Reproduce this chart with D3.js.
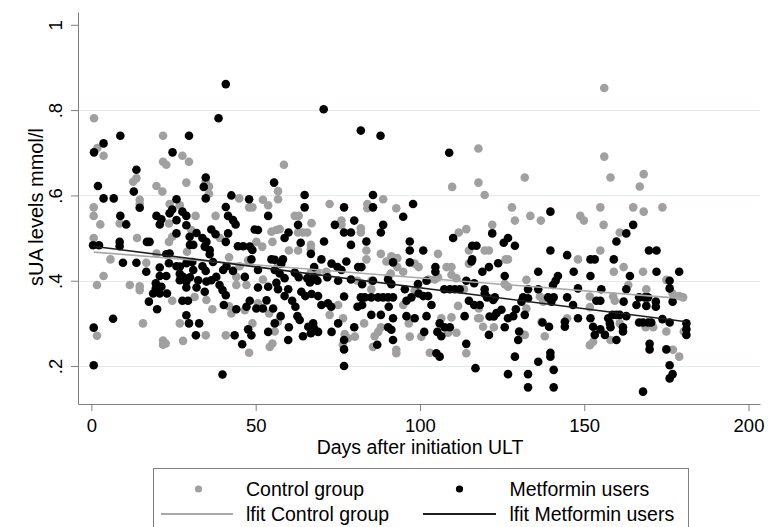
<!DOCTYPE html>
<html>
<head>
<meta charset="utf-8">
<script src="https://cdnjs.cloudflare.com/ajax/libs/d3/7.8.5/d3.min.js"></script>
<style>
  body { margin: 0; background: #fff; }
  svg text { font-family: "Liberation Sans", Arial, sans-serif; fill: #000; }
</style>
</head>
<body>
<script>
// [days after initiation ULT, sUA mmol/l]
var controlPoints = [
  [0.8,0.781],[1.8,0.711],[3.7,0.693],[13.7,0.64],[21.8,0.74],[21.8,0.679],[22.8,0.672],[27.7,0.693],[29.7,0.679],[35.8,0.621],[35.8,0.604],
  [12.7,0.632],[19.8,0.622],[21.6,0.609],[28.9,0.63],[34.8,0.632],
  [0.7,0.572],[0.7,0.552],[14.7,0.59],[14.7,0.58],[23.8,0.58],[26.9,0.577],[45.0,0.593],[48,0.572],[49,0.572],[52.2,0.59],[53.8,0.577],
  [2.7,0.532],[8.6,0.534],[23.6,0.534],[31.7,0.552],[37.8,0.552],[30.4,0.519],[54.8,0.515],[56.3,0.519],
  [0.7,0.50],[13.9,0.50],[39.1,0.50],[50.2,0.491],[52,0.48],[55.1,0.491],[23.6,0.491],[24.6,0.503],[29.1,0.468],
  [5.8,0.45],[16.7,0.442],[19.8,0.464],[41.9,0.455],[47.7,0.448],[56.8,0.437],[45.1,0.434],
  [3.7,0.411],[1.7,0.39],[11.7,0.39],[14.7,0.387],[14.7,0.378],[44.1,0.39],[47.2,0.39],[52.2,0.403],[44.1,0.409],
  [24.6,0.353],[31.4,0.362],[35,0.355],[36.8,0.333],[41.9,0.34],[42.6,0.323],[46.7,0.331],[50.7,0.347],[54.1,0.323],
  [1.7,0.271],[15.7,0.3],[26.9,0.3],[34.8,0.272],[40.9,0.272],[49,0.3],[55.1,0.253],[54.3,0.245],[48,0.231],[21.8,0.26],[22.6,0.253],[21.8,0.25],[27.9,0.259],
  [58.6,0.672],[117.8,0.71],[109.8,0.62],[117.8,0.63],[56.8,0.61],
  [72.5,0.58],[84,0.58],[84,0.57],[88.8,0.591],[92.8,0.57],[56.8,0.591],
  [61.9,0.552],[63.1,0.552],[67,0.535],[76.1,0.541],[76.1,0.531],[82,0.523],[82,0.513],[57.3,0.521],[62.9,0.513],[64.4,0.513],[65.7,0.513],[66.8,0.484],[66.8,0.474],[111.8,0.513],[114.1,0.521],[114.9,0.471],
  [60.1,0.471],[62.9,0.471],[83.7,0.471],[83.7,0.45],[88.1,0.463],[89.8,0.445],[91.3,0.457],[93.1,0.453],[93.1,0.432],[94.9,0.421],[98.4,0.44],[99.6,0.432],[105.5,0.463],[108.1,0.432],[109.6,0.432],[114.9,0.44],
  [68.8,0.419],[66.8,0.419],[71.5,0.421],[81,0.4],[85.2,0.4],[85.2,0.38],[91.1,0.417],[90.3,0.408],[102.7,0.403],[104.5,0.403],[105.5,0.408],[109.6,0.414],[111.1,0.406],[113.4,0.38],
  [75.1,0.343],[94.9,0.343],[98.4,0.377],[111.6,0.341],[117.9,0.335],
  [56.8,0.304],[72.5,0.32],[76.6,0.312],[83,0.3],[88.1,0.291],[96.6,0.3],[106.5,0.312],[109.6,0.314],[117.7,0.312],
  [55.8,0.281],[77.1,0.275],[78.1,0.265],[80.2,0.269],[86.2,0.27],[87.3,0.28],[92.8,0.238],[92.8,0.23],[96.9,0.269],[100.4,0.269],[103,0.231],[108.6,0.278],[111.1,0.278],[114.1,0.23],[85.7,0.245],[76.5,0.25],
  [119.7,0.601],[128,0.572],[128.9,0.541],[133.6,0.552],[136.8,0.541],[148.8,0.552],[149.9,0.541],[154.9,0.572],[155.9,0.531],[164.9,0.572],[168.1,0.562],[173.8,0.572],[122,0.531],[160.8,0.513],
  [119.7,0.471],[121,0.471],[154.9,0.471],[126.1,0.45],[126.8,0.45],[148.1,0.45],[162,0.432],[159,0.421],[167.9,0.421],[175,0.402],
  [132.4,0.402],[125.8,0.392],[126.8,0.386],[163.4,0.39],[168.9,0.38],[136.5,0.363],[137.5,0.351],[151.7,0.363],[158.8,0.363],[159.3,0.353],[176.9,0.37],[178.9,0.364],[180.1,0.361],
  [132.4,0.335],[118.2,0.312],[119.2,0.292],[122.5,0.291],[137,0.304],[144.8,0.312],[151.7,0.338],[160.8,0.3],[158,0.261],[168.7,0.291],[171,0.291],[175,0.281],[180.3,0.281],[131.9,0.273],[138,0.27],
  [152.7,0.257],[151.7,0.249],[177,0.238],[178.9,0.222],
  [156.1,0.852],[156.1,0.691],[158,0.642],[131.9,0.642],[166.9,0.621],[168.1,0.65]
];

var metforminPoints = [
  [0.8,0.701],[3.7,0.722],[8.8,0.74],[13.7,0.66],[24.7,0.701],[29.7,0.74],[34.8,0.642],[38.7,0.781],[40.9,0.861],
  [2.0,0.622],[12.9,0.609],[34.2,0.62],[34.8,0.593],[55.6,0.63],
  [3.7,0.593],[6.8,0.593],[14.7,0.571],[25.9,0.591],[24.6,0.567],[23.8,0.558],[27.7,0.562],[28.9,0.552],[42.6,0.6],[48,0.591],[40.9,0.573],
  [8.8,0.552],[10.6,0.532],[19.8,0.552],[21.3,0.544],[20.8,0.532],[25.9,0.542],[28.9,0.53],[41.6,0.552],[43.1,0.542],[43.9,0.532],[53.8,0.552],[36.5,0.52],[32,0.512],[49.7,0.52],[50.7,0.519],
  [0.5,0.483],[2.3,0.483],[8.6,0.491],[8.6,0.481],[16.9,0.491],[17.7,0.491],[25.9,0.511],[29.9,0.503],[33.8,0.5],[35,0.491],[34.5,0.48],[37.8,0.509],[40.9,0.491],[41.6,0.511],[44.6,0.481],[46.2,0.481],[48.2,0.48],[49,0.472],[30,0.484],[31,0.484],[36,0.472],[36,0.462],
  [9.6,0.442],[13.7,0.442],[16.7,0.421],[23.8,0.464],[22.8,0.462],[20.8,0.431],[23.6,0.441],[25.9,0.434],[26.9,0.433],[26.9,0.416],[28.9,0.441],[30.7,0.444],[31,0.425],[30,0.408],[33.8,0.434],[34.8,0.423],[37,0.444],[41.1,0.434],[40.1,0.425],[43.1,0.423],[46.7,0.409],[48.7,0.45],[50.7,0.425],[54.8,0.45],
  [20.8,0.411],[22.8,0.411],[19.6,0.394],[21.3,0.386],[27.9,0.409],[28.9,0.398],[26.9,0.401],[28.9,0.384],[32.5,0.401],[32,0.384],[35,0.398],[36.5,0.401],[38,0.409],[39,0.39],[34.5,0.374],[40.9,0.366],[39.9,0.378],[50.7,0.384],[53.8,0.386],[56.8,0.38],[56.3,0.395],
  [18.8,0.37],[20.8,0.37],[23,0.37],[19.6,0.382],[17.5,0.351],[20,0.333],[27.7,0.353],[29.4,0.353],[40.3,0.343],[44.1,0.333],[48.2,0.353],[47.2,0.339],[50.2,0.335],[52.2,0.335],[55.3,0.335],[53.3,0.354],
  [6.6,0.311],[0.7,0.29],[28.9,0.319],[29.7,0.3],[32.8,0.3],[31.8,0.272],[43.6,0.272],[47.7,0.286],[48.7,0.272],[55.8,0.3],[53.8,0.28],[45.9,0.251],[0.7,0.202],[39.9,0.18],
  [70.7,0.802],[82,0.752],[88,0.74],[108.9,0.70],
  [64.9,0.601],[64.9,0.572],[76.9,0.572],[85.7,0.601],[85.7,0.572],[97.9,0.58],[94.9,0.55],
  [62.9,0.531],[74.1,0.531],[80,0.541],[76.9,0.513],[79,0.513],[88.8,0.531],[88.1,0.513],[60,0.513],[58.8,0.5],[63.7,0.489],[70.8,0.492],[79,0.484],[83.7,0.492],[96.9,0.492],[96.9,0.471],[101,0.471],[110.1,0.5],[115.9,0.482],[117.2,0.482],[115.9,0.45],
  [55.8,0.449],[58.3,0.45],[57.8,0.44],[66.8,0.463],[67.8,0.432],[70,0.45],[73.1,0.44],[76.1,0.425],[74.9,0.432],[77.6,0.445],[81.2,0.432],[82.2,0.432],[91.8,0.443],[96.9,0.443],[104.7,0.432],[104.7,0.421],[115.7,0.445],[55.8,0.425],
  [57.3,0.417],[58.8,0.406],[61.9,0.419],[63.1,0.408],[65.7,0.406],[67.8,0.408],[68.8,0.4],[66.5,0.396],[71.8,0.408],[75.1,0.4],[79,0.403],[82.4,0.392],[85.7,0.4],[90.3,0.403],[91.3,0.392],[99.4,0.392],[102,0.4],[114.1,0.4],[116.5,0.394],[107.4,0.38],[109.1,0.38],[110.6,0.38],[112.1,0.38],[95.4,0.38],[59.9,0.38],
  [58.8,0.364],[61.1,0.353],[62.1,0.339],[63.9,0.374],[65.1,0.364],[69,0.364],[70,0.343],[72,0.347],[73,0.339],[67,0.369],[76.9,0.363],[82,0.361],[83.2,0.361],[85.2,0.361],[87.3,0.361],[88.8,0.361],[90.3,0.361],[91.8,0.361],[81,0.339],[82.4,0.343],[90.5,0.339],[97.4,0.361],[99.6,0.37],[101,0.364],[102.5,0.364],[103.5,0.343],[95.9,0.353],[114.9,0.353],[116.5,0.343],
  [57.6,0.317],[62.7,0.317],[63.4,0.308],[67.5,0.3],[67.8,0.288],[66,0.292],[60.1,0.291],[75.1,0.3],[80,0.291],[85.2,0.32],[88.1,0.32],[90.3,0.291],[91.8,0.312],[95.9,0.317],[98.4,0.312],[102,0.317],[106,0.3],[107.5,0.291],[109.1,0.291],[113.6,0.317],
  [59.9,0.261],[64.4,0.27],[66.8,0.277],[69,0.28],[73.1,0.28],[76.9,0.261],[76.9,0.239],[91.3,0.285],[91.8,0.261],[101.3,0.28],[105.3,0.28],[106.5,0.27],[105,0.23],[106,0.222],[114.1,0.252],[76.9,0.2],[116.9,0.195],[87,0.25],
  [139.7,0.562],[164.9,0.531],[122,0.511],[162.8,0.511],
  [125.5,0.489],[126.8,0.5],[128.9,0.482],[159.8,0.492],[139.7,0.471],[144.8,0.46],[123.8,0.441],[121,0.432],[151.9,0.45],[153.2,0.45],[159,0.45],[169.7,0.471],[172,0.471],
  [119,0.421],[125.8,0.411],[136,0.421],[142,0.411],[141.3,0.4],[140.5,0.39],[146.8,0.421],[151.9,0.411],[172,0.421],[178.9,0.421],[163.9,0.411],[176,0.4],[176,0.382],
  [119.7,0.38],[119.7,0.37],[132.9,0.38],[136,0.38],[148.1,0.382],[155.2,0.38],[162.8,0.38],[166.7,0.361],[168.4,0.361],[169.4,0.361],[120.4,0.361],[122.8,0.361],[131.4,0.361],[132.9,0.359],[130.9,0.351],[139,0.361],[140.7,0.361],[140,0.351],[144.8,0.361],[153.7,0.353],[154.9,0.353],[162,0.351],[176.9,0.351],[171.8,0.351],[171.8,0.339],[165.9,0.343],[168.9,0.341],
  [122.3,0.355],[124.8,0.332],[123.3,0.324],[121.2,0.316],[122.5,0.316],[126.8,0.312],[128.4,0.317],[129.2,0.333],[131.9,0.32],[125.8,0.291],[118.2,0.343],[121,0.273],[137.3,0.302],[139.3,0.292],[144.1,0.304],[144.1,0.292],[146.6,0.343],[148.1,0.312],[151.9,0.312],[152.7,0.292],[153.2,0.273],[154.9,0.286],[156.3,0.273],[157.3,0.312],[158.6,0.32],[159.8,0.32],[160.8,0.32],[162.8,0.317],[157.8,0.3],[158,0.291],[161.8,0.291],[161.8,0.281],[159.8,0.261],[166.7,0.302],[167.9,0.302],[169.4,0.302],[170.4,0.302],[173.8,0.31],[176,0.302],[181.1,0.3],[181.1,0.286],[181.1,0.273],[130.2,0.281],[129.9,0.261],
  [169.9,0.252],[169.9,0.239],[175,0.239],[128.9,0.222],[136,0.21],[139.7,0.231],[139.7,0.222],[140.7,0.191],[126.8,0.181],[132.9,0.181],[132.9,0.15],[140.7,0.15],[176,0.202],[176.9,0.181],[176,0.171],[167.9,0.14]
];

// linear fit end points (lfit)
var controlFit = [[0.7, 0.467], [180.3, 0.358]];
var metforminFit = [[0.5, 0.481], [181.1, 0.304]];

var xTicks = [0, 50, 100, 150, 200];
var yTicks = [0.2, 0.4, 0.6, 0.8, 1];
var yTickLabels = [".2", ".4", ".6", ".8", "1"];
var legendLabels = ["Control group", "Metformin users", "lfit Control group", "lfit Metformin users"];

var width = 770;
var height = 527;
var grey = "#a0a0a0";
var axisColor = "#7f7f7f";

var svg = d3.select("body")
            .append("svg")
            .attr("width", width)
            .attr("height", height);

var x = d3.scaleLinear().domain([-4.08, 203.5]).range([78, 760]);
var y = d3.scaleLinear().domain([0.111, 1.03]).range([404, 12]);

// horizontal grid, not at the top tick
svg.append("g")
    .selectAll("line")
    .data(yTicks.filter(function(d) { return d < 1; }))
    .enter()
    .append("line")
    .attr("x1", x.range()[0])
    .attr("x2", x.range()[1])
    .attr("y1", function(d) { return Math.round(y(d)) + 0.5; })
    .attr("y2", function(d) { return Math.round(y(d)) + 0.5; })
    .attr("stroke", "#e2ebee")
    .attr("stroke-width", 1);

// axes
var gx = svg.append("g")
    .attr("transform", "translate(0,404)")
    .call(d3.axisBottom(x).tickValues(xTicks).tickSize(7).tickSizeOuter(0).tickPadding(8));

var gy = svg.append("g")
    .attr("transform", "translate(78,0)")
    .call(d3.axisLeft(y).tickValues(yTicks)
            .tickFormat(function(d, i) { return yTickLabels[i]; })
            .tickSize(7).tickSizeOuter(0));

[gx, gy].forEach(function(g) {
  g.attr("font-family", null).attr("font-size", null);
  g.select(".domain").attr("stroke", axisColor);
  g.selectAll(".tick line").attr("stroke", axisColor);
  g.selectAll(".tick text").style("font-size", "18.5px");
});

gy.selectAll(".tick text")
    .attr("x", 0)
    .attr("dy", 0)
    .attr("text-anchor", "middle")
    .attr("transform", "translate(-16,0) rotate(-90)");

// axis titles
svg.append("text")
    .attr("x", 420)
    .attr("y", 454)
    .attr("text-anchor", "middle")
    .style("font-size", "19.5px")
    .text("Days after initiation ULT");

svg.append("text")
    .attr("transform", "translate(43,207) rotate(-90)")
    .attr("text-anchor", "middle")
    .style("font-size", "20px")
    .text("sUA levels mmol/l");

// markers
svg.append("g")
    .selectAll("circle")
    .data(controlPoints)
    .enter()
    .append("circle")
    .attr("cx", function(d) { return x(d[0]); })
    .attr("cy", function(d) { return y(d[1]); })
    .attr("r", 4.3)
    .attr("fill", grey);

svg.append("g")
    .selectAll("circle")
    .data(metforminPoints)
    .enter()
    .append("circle")
    .attr("cx", function(d) { return x(d[0]); })
    .attr("cy", function(d) { return y(d[1]); })
    .attr("r", 4.3)
    .attr("fill", "#000");

// fit lines
var line = d3.line()
    .x(function(d) { return x(d[0]); })
    .y(function(d) { return y(d[1]); });

svg.append("path")
    .datum(controlFit)
    .attr("d", line)
    .attr("fill", "none")
    .attr("stroke", "#a8a8a8")
    .attr("stroke-width", 1.6);

svg.append("path")
    .datum(metforminFit)
    .attr("d", line)
    .attr("fill", "none")
    .attr("stroke", "#1e1e1e")
    .attr("stroke-width", 1.6);

// legend
var legend = svg.append("g");

legend.append("rect")
    .attr("x", 153.5)
    .attr("y", 468.5)
    .attr("width", 535)
    .attr("height", 80)
    .attr("fill", "#fff")
    .attr("stroke", axisColor);

legend.append("circle").attr("cx", 198.5).attr("cy", 489).attr("r", 3.6).attr("fill", grey);
legend.append("circle").attr("cx", 459.5).attr("cy", 489).attr("r", 3.6).attr("fill", "#000");
legend.append("line").attr("x1", 161).attr("x2", 233).attr("y1", 514).attr("y2", 514)
    .attr("stroke", "#a8a8a8").attr("stroke-width", 2);
legend.append("line").attr("x1", 423).attr("x2", 496).attr("y1", 514).attr("y2", 514)
    .attr("stroke", "#1e1e1e").attr("stroke-width", 2);

var legendPos = [[246, 489], [509.5, 489], [246, 514], [509.5, 514]];
legend.selectAll("text")
    .data(legendLabels)
    .enter()
    .append("text")
    .attr("x", function(d, i) { return legendPos[i][0]; })
    .attr("y", function(d, i) { return legendPos[i][1]; })
    .attr("dy", "0.35em")
    .style("font-size", "19.5px")
    .text(function(d) { return d; });
</script>
</body>
</html>
